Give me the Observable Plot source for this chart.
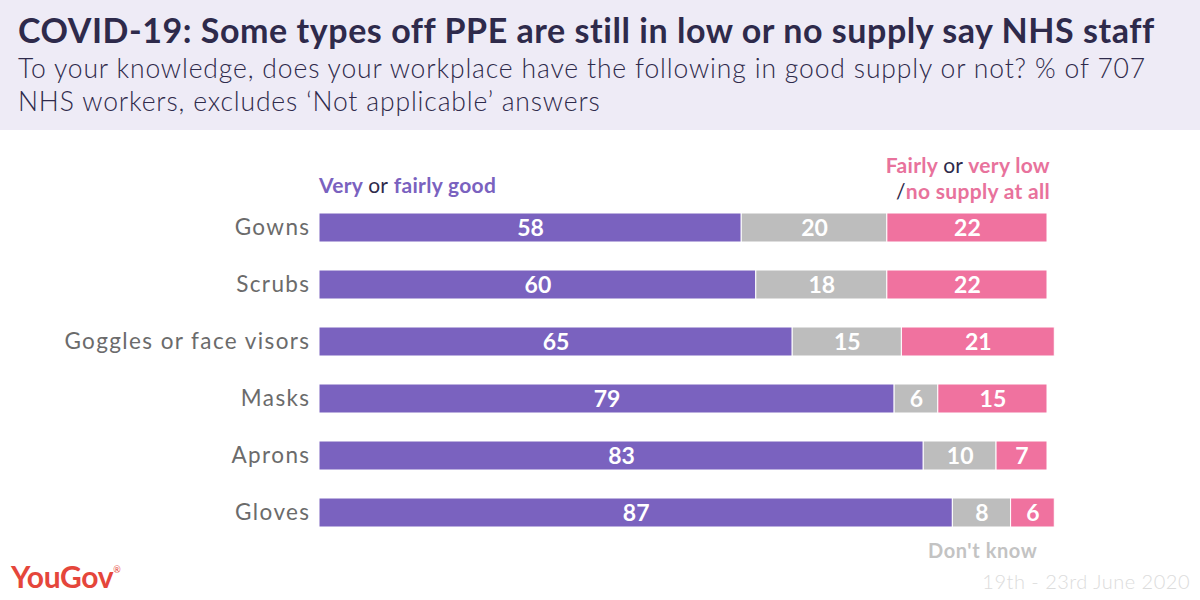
<!DOCTYPE html>
<html>
<head>
<meta charset="utf-8">
<script src="https://cdn.jsdelivr.net/npm/d3@7"></script>
<script src="https://cdn.jsdelivr.net/npm/@observablehq/plot@0.6"></script>
<style>
  html, body { margin: 0; padding: 0; background: #fff; }
  body { width: 1200px; height: 600px; position: relative; overflow: hidden; font-family: Lato, "Open Sans", sans-serif; }
  #header { position: absolute; left: 0; top: 0; width: 1200px; height: 130px; background: #eeebf6; }
  #title { position: absolute; left: 18px; top: 9px; font-size: 34px; font-weight: 700; color: #2e2a4b; white-space: nowrap; letter-spacing: 0.55px; }
  #subtitle { position: absolute; left: 18px; top: 52px; font-size: 26.5px; font-weight: 300; color: #2e2a4b; line-height: 33px; white-space: nowrap; letter-spacing: 0.85px; }
  #chart { position: absolute; left: 0; top: 130px; }
  .leg { position: absolute; font-size: 21px; font-weight: 700; white-space: nowrap; letter-spacing: 0.3px; }
  .or { color: #2e2a4b; font-weight: 400; }
  #legGood { left: 319px; top: 172px; color: #7a62bf; }
  #legLow { right: 150px; top: 152px; color: #e8729c; text-align: right; line-height: 26px; }
  #dk { left: 928px; top: 538px; color: #c3c3c3; font-size: 20px; font-weight: 700; position: absolute; letter-spacing: 0.6px; }
  #logo { position: absolute; left: 11px; top: 558px; color: #e5463b; font-size: 30px; font-weight: 700; letter-spacing: -0.3px; }
  #logo sup { font-size: 9px; font-weight: 400; vertical-align: top; position: relative; top: 6px; }
  #date { position: absolute; right: 10px; top: 569px; color: #dcdcdc; font-size: 20px; font-weight: 300; letter-spacing: 0.5px; }
</style>
</head>
<body>
<div id="header">
  <div id="title">COVID-19: Some types off PPE are still in low or no supply say NHS staff</div>
  <div id="subtitle">To your knowledge, does your workplace have the following in good supply or not? % of 707<br>NHS workers, excludes ‘Not applicable’ answers</div>
</div>
<div id="chart"></div>
<div class="leg" id="legGood">Very <span class="or">or</span> fairly good</div>
<div class="leg" id="legLow">Fairly <span class="or">or</span> very low<br><span class="or">/</span>no supply at all</div>
<div id="dk">Don't know</div>
<div id="logo">YouGov<sup>®</sup></div>
<div id="date">19th - 23rd June 2020</div>
<script>
const categories = ["Gowns", "Scrubs", "Goggles or face visors", "Masks", "Aprons", "Gloves"];
const good = [58, 60, 65, 79, 83, 87];
const dontKnow = [20, 18, 15, 6, 10, 8];
const low = [22, 22, 21, 15, 7, 6];
const seriesNames = ["Very or fairly good", "Don't know", "Fairly or very low / no supply at all"];
const seriesColors = ["#7a62bf", "#bdbdbd", "#f0729f"];

const data = [];
categories.forEach((c, i) => {
  [good, dontKnow, low].forEach((arr, s) => {
    data.push({cat: c, series: seriesNames[s], value: arr[i], order: s});
  });
});

const chart = Plot.plot({
  width: 1200,
  height: 470,
  marginLeft: 319,
  marginRight: 153,
  marginTop: 55,
  marginBottom: 45,
  style: {fontFamily: "Lato, 'Open Sans', sans-serif", background: "transparent"},
  x: {domain: [0, 100], axis: null},
  y: {domain: categories, padding: 0.49, label: null, tickSize: 0, tickPadding: 9},
  color: {domain: seriesNames, range: seriesColors},
  marks: [
    Plot.barX(data, Plot.stackX({x: "value", y: "cat", fill: "series", order: "order", stroke: "white", strokeWidth: 1})),
    Plot.text(data, Plot.stackX({x: "value", y: "cat", z: "series", order: "order", text: d => String(d.value), fill: "white", fontSize: 23, fontWeight: 700, dy: 1})),
    Plot.axisY({tickSize: 0, tickPadding: 9, fontSize: 22.5, color: "#6b6b6b", label: null})
  ]
});
chart.querySelectorAll("[aria-label='y-axis tick label'] text").forEach(t => {
  t.setAttribute("fill", "#6b6b6b");
  t.style.letterSpacing = "1.4px";
});
document.getElementById("chart").appendChild(chart);
</script>
</body>
</html>
